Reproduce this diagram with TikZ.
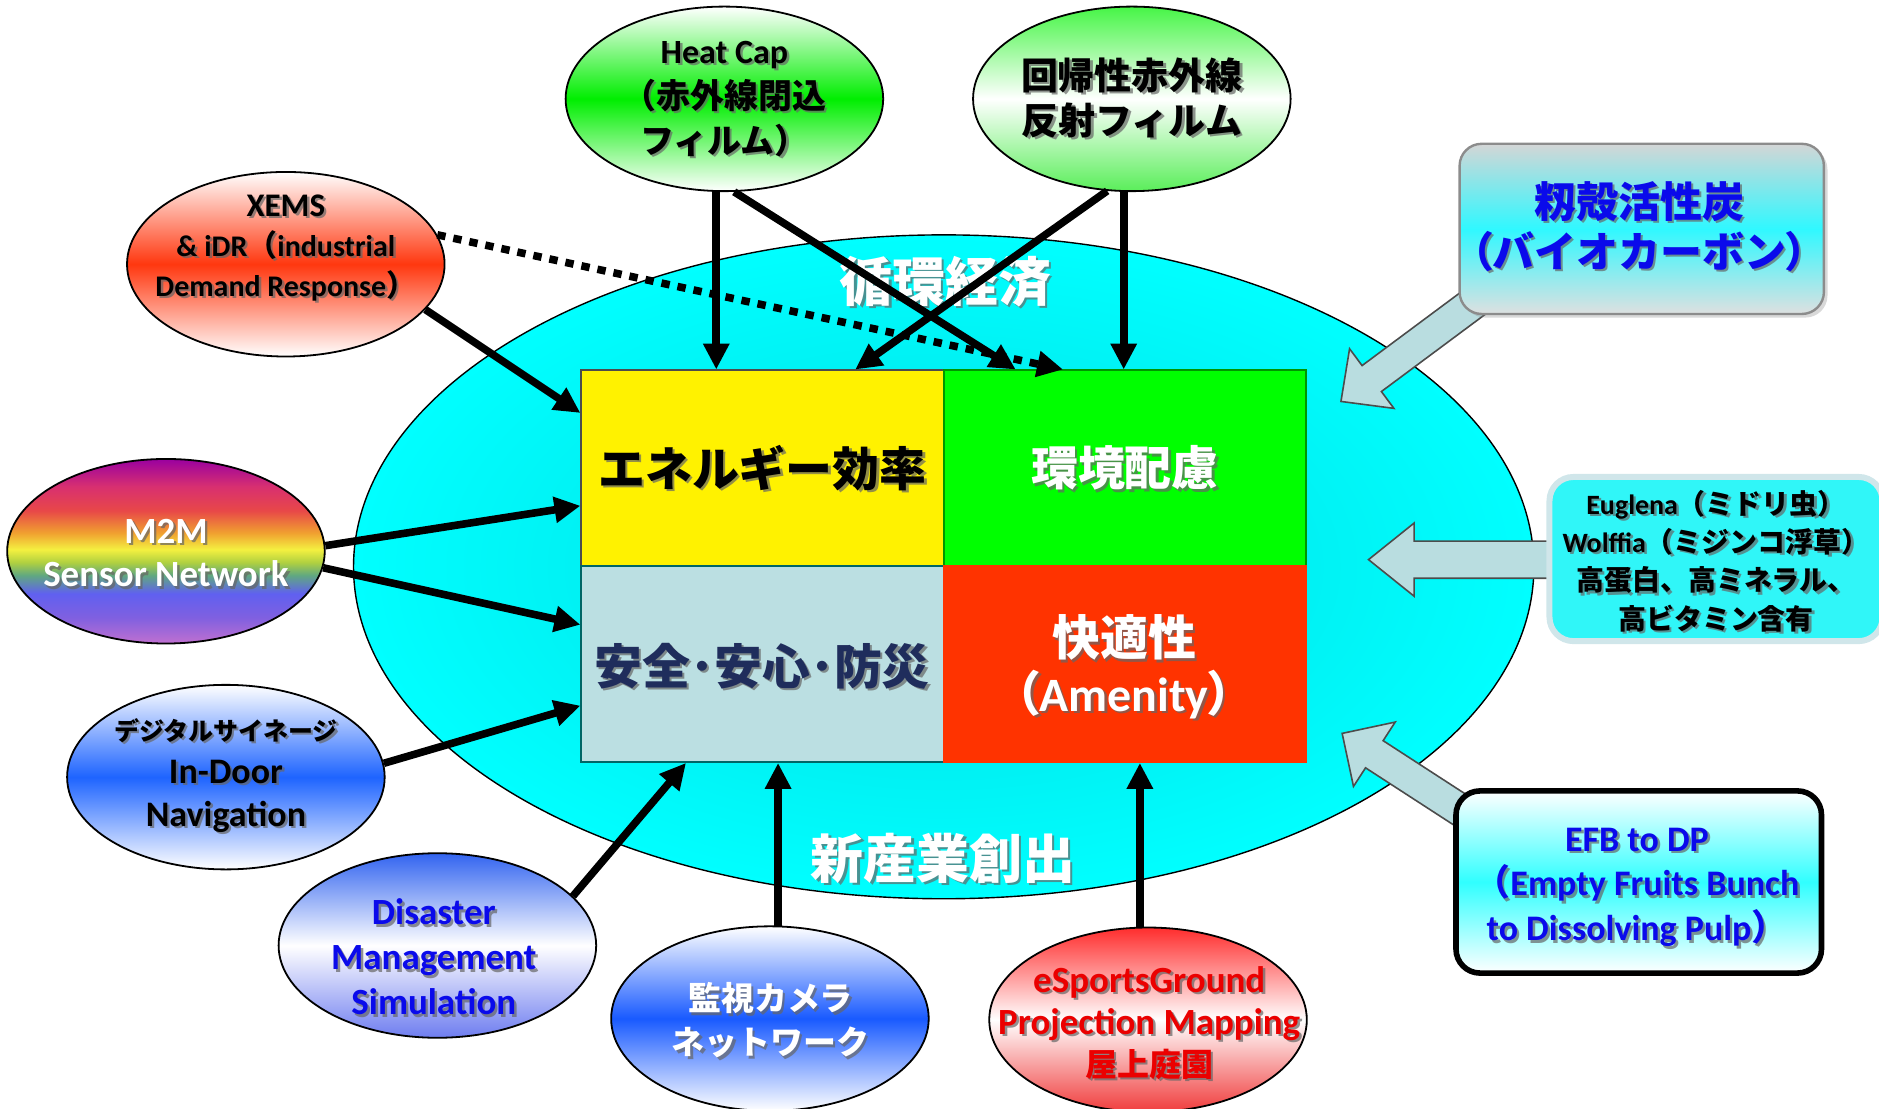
\documentclass[tikz,border=0pt]{standalone}
\usepackage{fontspec}
\setmainfont{Carlito}
\newfontfamily\jp{Noto Sans CJK JP}
\newfontfamily\jpp{Noto Sans CJK JP}[RawFeature=+palt]
\usetikzlibrary{shapes.geometric,arrows.meta,calc,shadows}

\definecolor{safc}{RGB}{187,223,226}
\definecolor{amec}{RGB}{255,51,0}
\definecolor{navyt}{RGB}{31,45,92}
\definecolor{heatg}{RGB}{0,238,0}
\definecolor{kgA}{RGB}{70,245,70}
\definecolor{kgB}{RGB}{90,238,90}
\definecolor{xemsr}{RGB}{255,55,15}
\definecolor{signb}{RGB}{30,100,255}
\definecolor{disA}{RGB}{50,100,240}
\definecolor{disB}{RGB}{110,125,240}
\definecolor{camb}{RGB}{25,90,255}
\definecolor{esprA}{RGB}{255,45,45}
\definecolor{esprB}{RGB}{240,60,60}
\definecolor{bigin}{RGB}{0,220,226}
\definecolor{bigout}{RGB}{0,255,255}
\definecolor{bluegray}{RGB}{185,221,224}
\definecolor{grayt}{RGB}{212,214,214}
\definecolor{grayb}{RGB}{222,224,224}
\definecolor{cyanm}{RGB}{48,248,255}
\definecolor{eugf}{RGB}{48,246,248}
\definecolor{eugb}{RGB}{208,230,234}
\definecolor{efbc}{RGB}{48,255,255}
\definecolor{textblue}{RGB}{10,10,235}
\definecolor{textred}{RGB}{235,0,0}
\definecolor{envg}{RGB}{0,255,0}
\definecolor{envd}{RGB}{0,150,0}

\definecolor{rbA}{HTML}{C070D0}
\definecolor{rbB}{HTML}{8060E0}
\definecolor{rbC}{HTML}{6060F0}
\definecolor{rbD}{HTML}{60A880}
\definecolor{rbE}{HTML}{B0D040}
\definecolor{rbF}{HTML}{F4F040}
\definecolor{rbG}{HTML}{F0A030}
\definecolor{rbH}{HTML}{E84848}
\definecolor{rbI}{HTML}{D83070}
\definecolor{rbJ}{HTML}{9A00A0}
\pgfdeclareverticalshading{rainbowm}{100bp}{color(0bp)=(rbA); color(25bp)=(rbA); color(32bp)=(rbB); color(38.5bp)=(rbC); color(43.5bp)=(rbD); color(47bp)=(rbE); color(50.5bp)=(rbF); color(55bp)=(rbG); color(61bp)=(rbH); color(67.5bp)=(rbI); color(75bp)=(rbJ); color(100bp)=(rbJ)}

\newcommand{\fs}[2]{\fontsize{#1}{#2}\selectfont}
\newcommand{\shlab}[4]{%
  \node[#3, text=black!60, text opacity=0.7, xshift=1.2pt, yshift=-1.2pt] (#1-sh) at (#2) {#4};
  \node[#3] (#1) at (#2) {#4};}

\tikzset{
  ell/.style={ellipse, draw=black, line width=0.9pt, minimum width=159pt, minimum height=92.4pt, inner sep=0pt},
  cell/.style={rectangle, minimum width=181.5pt, minimum height=98.1pt, inner sep=0pt, line width=0.8pt},
  txt/.style={align=center, inner sep=0pt},
  arr/.style={line width=3.8pt, -{Triangle[length=13pt,width=12.5pt]}},
  arrdot/.style={arr, dash pattern=on 4.2pt off 4pt},
  barrow/.style={fill=bluegray, draw=black!70, line width=0.8pt, line join=miter},
}

\begin{document}
\begin{tikzpicture}[x=0.6pt,y=-0.6pt]
\useasboundingbox (0,0) rectangle (1568,925);

% big ellipse
\node[ellipse, draw=black, line width=0.7pt, minimum width=591pt, minimum height=332.4pt, inner sep=0pt, inner color=bigin, outer color=bigout] (big) at (787.5,473) {};

% block arrows
\coordinate (m-T) at (1236,248);
\coordinate (m-P) at (1119,335);
\coordinate (m-H) at ($(m-P)!19.2pt!(m-T)$);
\draw[barrow] (m-P) -- ($(m-H)!18.6pt!-90:(m-P)$) -- ($(m-H)!8.1pt!-90:(m-P)$) -- ($(m-T)!8.1pt!-90:(m-P)$) -- ($(m-T)!8.1pt!90:(m-P)$) -- ($(m-H)!8.1pt!90:(m-P)$) -- ($(m-H)!18.6pt!90:(m-P)$) -- cycle;

\coordinate (e-T) at (1300,467);
\coordinate (e-P) at (1142,467);
\coordinate (e-H) at ($(e-P)!22.8pt!(e-T)$);
\draw[barrow] (e-P) -- ($(e-H)!18.3pt!-90:(e-P)$) -- ($(e-H)!9.3pt!-90:(e-P)$) -- ($(e-T)!9.3pt!-90:(e-P)$) -- ($(e-T)!9.3pt!90:(e-P)$) -- ($(e-H)!9.3pt!90:(e-P)$) -- ($(e-H)!18.3pt!90:(e-P)$) -- cycle;

\coordinate (f-T) at (1228,682);
\coordinate (f-P) at (1120,612);
\coordinate (f-H) at ($(f-P)!19.2pt!(f-T)$);
\draw[barrow] (f-P) -- ($(f-H)!19.2pt!-90:(f-P)$) -- ($(f-H)!8.1pt!-90:(f-P)$) -- ($(f-T)!8.1pt!-90:(f-P)$) -- ($(f-T)!8.1pt!90:(f-P)$) -- ($(f-H)!8.1pt!90:(f-P)$) -- ($(f-H)!19.2pt!90:(f-P)$) -- cycle;

% right boxes
\node[rounded corners=11pt, draw=black!45, line width=1.2pt, top color=grayt, bottom color=grayb, middle color=cyanm, minimum width=182.4pt, minimum height=85.2pt, drop shadow={shadow xshift=1.8pt, shadow yshift=-1.8pt, opacity=0.3}] (moma) at (1370,191) {};
\shlab{momaT}{1368,189}{txt, text=textblue, font={\bfseries\fs{21}{25}}}{{\jp 籾殻活性炭}\\{\jpp （}{\jp バイオカーボン}{\jpp ）}}

\node[rounded corners=12pt, draw=eugb, line width=3pt, fill=eugf, minimum width=166.8pt, minimum height=82.2pt] (eug) at (1432,466.5) {};
\shlab{eugT}{1432,468}{txt, text=black, font={\bfseries\fs{14}{19.2}}}{Euglena{\jp （ミドリ虫）}\\Wolffia{\jp （ミジンコ浮草）}\\{\jp 高蛋白、高ミネラル、}\\{\jp 高ビタミン含有}}

\node[rounded corners=12pt, draw=black, line width=2.8pt, top color=white, bottom color=white, middle color=efbc, minimum width=183pt, minimum height=91.2pt] (efb) at (1367.5,736) {};
\shlab{efbT}{1366,740.5}{txt, text=textblue, font={\bfseries\fs{18}{22.5}}}{EFB to DP\\{\jp （}Empty Fruits Bunch\\to Dissolving Pulp{\jp ）}}

% center cells
\node[cell, fill=yellow, draw=black!70] (ene) at (636.25,390.75) {};
\node[cell, fill=envg, draw=envd] (env) at (938.75,390.75) {};
\node[cell, fill=safc, draw=teal!80!black] (saf) at (636.25,554.25) {};
\node[cell, fill=amec, draw=amec] (ame) at (938.75,554.25) {};

\shlab{eneT}{ene}{txt, text=black, font={\bfseries\fs{23.5}{28}}}{{\jp エネルギー効率}}
\shlab{envT}{env}{txt, text=white, font={\bfseries\fs{23.5}{28}}}{{\jp 環境配慮}}
\shlab{safT}{636,556}{txt, text=navyt, font={\bfseries\fs{24}{28}}}{{\jp 安全･安心･防災}}
\shlab{ameT}{938,556.5}{txt, text=white, font={\bfseries\fs{24}{28}}}{{\jp 快適性}\\{\jpp （}Amenity{\jpp ）}}

\shlab{junkan}{789,235}{txt, text=white, font={\bfseries\fs{26.5}{30}}}{{\jp 循環経済}}
\shlab{shin}{787,716}{txt, text=white, font={\bfseries\fs{26.5}{30}}}{{\jp 新産業創出}}

% satellite ellipses
\node[ell, top color=white, bottom color=white, middle color=heatg] (heat) at (604.5,82.5) {};
\shlab{heatT}{604.5,82.5}{txt, text=black, font={\bfseries\fs{17}{22.5}}}{Heat Cap\\{\jp （赤外線閉込}\\{\jp フィルム）}}

\node[ell, top color=kgA, bottom color=kgB, middle color=white] (kaiki) at (944.5,82.5) {};
\shlab{kaikiT}{944.5,81.5}{txt, text=black, font={\bfseries\fs{18.5}{22.5}}}{{\jp 回帰性赤外線}\\{\jp 反射フィルム}}

\node[ell, top color=white, bottom color=white, middle color=xemsr] (xems) at (238.5,220.5) {};
\shlab{xemsT}{238.5,207}{txt, text=black, font={\bfseries\fs{15}{20}}}{{\fs{16.5}{20}XEMS}\\\& iDR{\jp （}industrial\\Demand Response{\jp ）}}

\node[ell, shade, shading=rainbowm] (m2m) at (138.5,460) {};
\shlab{m2mT}{138.5,461.5}{txt, text=white, font={\bfseries\fs{18.5}{22}}}{M2M\\Sensor Network}

\node[ell, top color=white, bottom color=white, middle color=signb] (sign) at (188.5,648.5) {};
\shlab{signT}{188.5,647}{txt, text=black, font={\bfseries\fs{18}{21.5}}}{{\jp\fs{12.5}{21.5}デジタルサイネージ}\\In-Door\\Navigation}

\node[ell, top color=disA, bottom color=disB, middle color=white] (dis) at (365,789) {};
\shlab{disT}{362,798.5}{txt, text=textblue, font={\bfseries\fs{18.5}{22.5}}}{Disaster\\Management\\Simulation}

\node[ell, top color=white, bottom color=white, middle color=camb] (cam) at (642.5,850) {};
\shlab{camT}{643,851.5}{txt, text=white, font={\bfseries\fs{16.5}{22}}}{{\jp 監視カメラ}\\{\jp ネットワーク}}

\node[ell, top color=esprA, bottom color=esprB, middle color=white] (esp) at (958,851) {};
\shlab{espT}{959,853.5}{txt, text=textred, font={\bfseries\fs{18.5}{21}}}{eSportsGround\\Projection Mapping\\{\jp\fs{16}{21}屋上庭園}}

% connectors
\draw[arr] (heat.265) -- (heat.265 |- ene.north);
\draw[arr] (heat.276) -- ($(env.north west)!0.2!(env.north east)$);
\draw[arr] (kaiki.255) -- ($(ene.north west)!0.755!(ene.north east)$);
\draw[arr] (kaiki.265) -- (kaiki.265 |- env.north);
\draw[arrdot] (xems.11) -- ($(env.north west)!0.33!(env.north east)$);
\draw[arr] (xems.-18) -- ($(ene.north west)!0.22!(ene.south west)$);
\draw[arr] (m2m.2) -- ($(ene.north west)!0.69!(ene.south west)$);
\draw[arr] (m2m.-6) -- ($(saf.north west)!0.30!(saf.south west)$);
\draw[arr] (sign.5) -- ($(saf.north west)!0.71!(saf.south west)$);
\draw[arr] (dis.20) -- ($(saf.south west)!0.29!(saf.south east)$);
\draw[arr] (cam.85) -- (cam.85 |- saf.south);
\draw[arr] (esp.95) -- (esp.95 |- ame.south);

\end{tikzpicture}
\end{document}
